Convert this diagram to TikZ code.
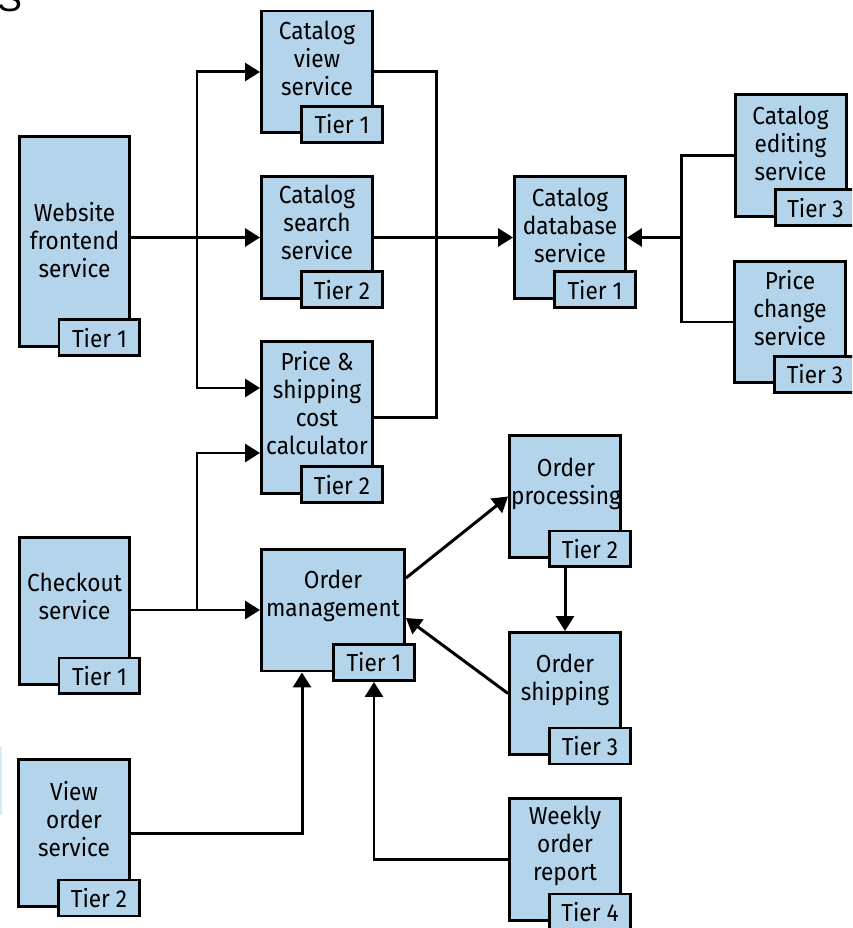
\documentclass[tikz,border=0pt]{standalone}
\usepackage{fontspec}
\setmainfont{Fira Sans}[FakeStretch=0.92]
\newfontfamily\hdrfont{Liberation Sans}
\usetikzlibrary{arrows.meta}
\definecolor{svcblue}{RGB}{179,212,234}

\begin{document}
\begin{tikzpicture}[x=0.02cm,y=-0.02cm,
    svc/.style={draw, line width=1.7pt, fill=svcblue, minimum width=2.22cm, minimum height=2.44cm, inner sep=0pt},
    tier/.style={draw, line width=1.7pt, fill=svcblue, minimum width=1.62cm, minimum height=0.72cm, inner sep=0pt, anchor=south east, font=\fontsize{14pt}{16pt}\selectfont},
    txt/.style={align=center, inner sep=0pt, font=\fontsize{14pt}{15.9pt}\selectfont},
    wire/.style={line width=1.7pt},
    arr/.style={line width=1.7pt, -{Triangle[length=0.3cm,width=0.36cm]}}]

        \useasboundingbox (0,0) rectangle (852,928);
        \clip (0,0) rectangle (852,928);

        \node[anchor=base west, inner sep=0pt, font=\hdrfont\fontsize{21pt}{21pt}\selectfont] (hdr) at (-3,12) {S};
        \fill[svcblue!50] (0,747) rectangle (2,815);

        % service boxes
        \node[svc] (cview) at (317,72) {};
        \node[svc] (csearch) at (317,237.5) {};
        \node[svc, minimum height=3.04cm] (pcalc) at (317,417.5) {};
        \node[svc, minimum height=4.2cm] (web) at (74.5,241.5) {};
        \node[svc] (cdb) at (570,237.5) {};
        \node[svc] (cedit) at (790.5,155.5) {};
        \node[svc] (pchange) at (790,322) {};
        \node[svc, minimum height=2.94cm] (checkout) at (74.5,611) {};
        \node[svc, minimum width=2.86cm] (ordmgmt) at (333,610) {};
        \node[svc] (ordproc) at (565,496.5) {};
        \node[svc] (ordship) at (565,693.5) {};
        \node[svc, minimum height=2.94cm] (vieword) at (74,833) {};
        \node[svc] (weekly) at (565,859.5) {};

        \node[txt] (cview-l) at ([yshift=0.28cm]cview.center) {Catalog\\view\\service};
        \node[txt] (csearch-l) at ([yshift=0.3cm]csearch.center) {Catalog\\search\\service};
        \node[txt] (pcalc-l) at ([yshift=0.29cm]pcalc.center) {Price \&\\shipping\\cost\\calculator};
        \node[txt] (web-l) at ([yshift=0.03cm]web.center) {Website\\frontend\\service};
        \node[txt] (cdb-l) at ([yshift=0.25cm]cdb.center) {Catalog\\database\\service};
        \node[txt] (cedit-l) at ([yshift=0.25cm]cedit.center) {Catalog\\editing\\service};
        \node[txt] (pchange-l) at ([yshift=0.28cm]pchange.center) {Price\\change\\service};
        \node[txt] (checkout-l) at ([yshift=0.3cm]checkout.center) {Checkout\\service};
        \node[txt] (ordmgmt-l) at ([yshift=0.28cm]ordmgmt.center) {Order\\management};
        \node[txt] (ordproc-l) at ([xshift=0.02cm,yshift=0.26cm]ordproc.center) {Order\\processing};
        \node[txt] (ordship-l) at ([yshift=0.28cm]ordship.center) {Order\\shipping};
        \node[txt] (vieword-l) at ([yshift=0.28cm]vieword.center) {View\\order\\service};
        \node[txt] (weekly-l) at ([yshift=0.28cm]weekly.center) {Weekly\\order\\report};

        % tier tags
        \node[tier] (cview-t) at ([xshift=0.2cm,yshift=-0.19cm]cview.south east) {Tier 1};
        \node[tier] (csearch-t) at ([xshift=0.2cm,yshift=-0.19cm]csearch.south east) {Tier 2};
        \node[tier] (pcalc-t) at ([xshift=0.2cm,yshift=-0.19cm]pcalc.south east) {Tier 2};
        \node[tier] (web-t) at ([xshift=0.2cm,yshift=-0.19cm]web.south east) {Tier 1};
        \node[tier] (cdb-t) at ([xshift=0.2cm,yshift=-0.19cm]cdb.south east) {Tier 1};
        \node[tier] (cedit-t) at ([xshift=0.2cm,yshift=-0.19cm]cedit.south east) {Tier 3};
        \node[tier] (pchange-t) at ([xshift=0.2cm,yshift=-0.19cm]pchange.south east) {Tier 3};
        \node[tier] (checkout-t) at ([xshift=0.2cm,yshift=-0.19cm]checkout.south east) {Tier 1};
        \node[tier] (ordmgmt-t) at ([xshift=0.2cm,yshift=-0.19cm]ordmgmt.south east) {Tier 1};
        \node[tier] (ordproc-t) at ([xshift=0.2cm,yshift=-0.19cm]ordproc.south east) {Tier 2};
        \node[tier] (ordship-t) at ([xshift=0.2cm,yshift=-0.19cm]ordship.south east) {Tier 3};
        \node[tier] (vieword-t) at ([xshift=0.2cm,yshift=-0.19cm]vieword.south east) {Tier 2};
        \node[tier] (weekly-t) at ([xshift=0.2cm,yshift=-0.19cm]weekly.south east) {Tier 4};

        % junctions
        \coordinate (j1) at (197,237.5);
        \coordinate (j2) at (436,237.5);
        \coordinate (j3) at (681,237.5);
        \coordinate (j4) at (197,610);

        % connectors
        \draw[arr] (web.east |- csearch.west) -- (csearch.west);
        \draw[arr] (j1) |- (cview.west);
        \draw[arr] (j1) |- ([yshift=0.59cm]pcalc.west);
        \draw[wire] (cview.east) -| (j2) |- (pcalc.east);
        \draw[arr] (csearch.east) -- (cdb.west);
        \draw[wire] (cedit.west) -| (j3) |- (pchange.west);
        \draw[arr] (j3) -- (cdb.east);

        \draw[arr] (checkout.east |- ordmgmt.west) -- (ordmgmt.west);
        \draw[arr] (j4) |- ([yshift=-0.71cm]pcalc.west);
        \draw[arr] ([yshift=0.64cm]ordmgmt.east) -- (ordproc.west);
        \draw[arr] (ordship.north |- ordproc-t.south) -- (ordship.north);
        \draw[arr] (ordship.west) -- ([yshift=-0.16cm]ordmgmt.east);
        \draw[arr] (vieword.east) -| ([xshift=-0.62cm]ordmgmt.south);
        \draw[arr] (weekly.west) -| (ordmgmt-t.south);

      \end{tikzpicture}
\end{document}
